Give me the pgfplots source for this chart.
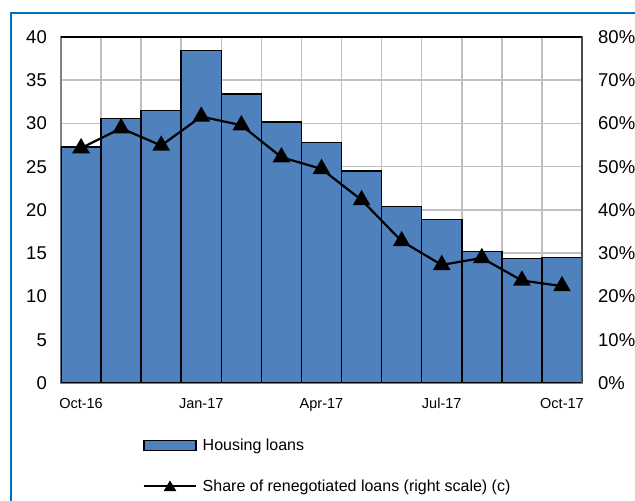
\documentclass[border=0pt]{standalone}
\usepackage{fontspec}
\setmainfont{Liberation Sans}
\usepackage{pgfplots}
\pgfplotsset{compat=1.18}
\definecolor{barblue}{HTML}{4F81BD}
\definecolor{frameblue}{HTML}{0070C0}
\definecolor{gridgray}{HTML}{BFBFBF}
\begin{document}
\begin{tikzpicture}
\begin{axis}[
 at={(61bp,118bp)}, anchor=south west,
 width=521bp, height=346bp, scale only axis,
 xmin=-0.5, xmax=12.5, ymin=0, ymax=40,
 ytick={0,5,...,40},
 xtick={0,3,6,9,12},
 xticklabels={Oct-16,Jan-17,Apr-17,Jul-17,Oct-17},
 minor xtick={-0.5,0.5,...,12.5},
 xminorgrids, ymajorgrids,
 grid style={draw=gridgray, line width=1.5bp},
 minor grid style={draw=gridgray, line width=1.5bp},
 major tick length=0pt, minor tick length=0pt,
 axis line style={draw=gray, line width=1.5bp},
 /pgf/number format/assume math mode=true,
 yticklabel style={font=\fontsize{18.5bp}{20bp}\selectfont, inner sep=0pt, xshift=-14bp},
 xticklabel style={font=\fontsize{14.5bp}{16bp}\selectfont, inner sep=0pt, yshift=-15bp},
 legend style={at={(0.157,-0.155)}, anchor=north west, draw=none, fill=none,
   font=\fontsize{16bp}{18bp}\selectfont, row sep=24bp, inner sep=0pt},
 legend cell align=left,
]
\addplot[ybar, bar width=1, fill=barblue, draw=black, line width=1.5bp,
  legend image code/.code={\draw[fill=barblue, draw=black, line width=1.5bp] (0bp,-5bp) rectangle (52bp,5bp); \path (56bp,0bp);}]
 coordinates {(0,27.3) (1,30.6) (2,31.5) (3,38.45) (4,33.4) (5,30.2) (6,27.8) (7,24.5) (8,20.4) (9,18.9) (10,15.2) (11,14.4) (12,14.5)};
\addlegendentry{Housing loans}
\addlegendimage{legend image code/.code={\draw[black, line width=2bp] (0bp,0bp) -- (52bp,0bp); \fill[black] (26bp,5.5bp) -- (20bp,-4.5bp) -- (32bp,-4.5bp) -- cycle; \path (56bp,0bp);}}
\addlegendentry{Share of renegotiated loans (right scale) (c)}
\draw[black, line width=2bp] (rel axis cs:0,1) -- (rel axis cs:1,1);
\end{axis}
\begin{axis}[
 at={(61bp,118bp)}, anchor=south west,
 width=521bp, height=346bp, scale only axis,
 xmin=-0.5, xmax=12.5, ymin=0, ymax=80,
 axis y line*=right, axis x line=none,
 ytick={0,10,...,80},
 yticklabels={0\%,10\%,20\%,30\%,40\%,50\%,60\%,70\%,80\%},
 major tick length=0pt,
 axis line style={draw=black!70, line width=1.5bp},
 yticklabel style={font=\fontsize{18.5bp}{20bp}\selectfont, inner sep=0pt, xshift=16bp},
]
\addplot[black, line width=2.2bp, mark=triangle*, mark size=8bp, mark options={solid}]
 coordinates {(0,54.3) (1,58.9) (2,54.9) (3,61.6) (4,59.6) (5,52.2) (6,49.5) (7,42.3) (8,32.8) (9,27.3) (10,28.9) (11,23.7) (12,22.4)};
\end{axis}
\draw[frameblue, line width=1.3bp] (11bp,-20bp) -- (11bp,488bp) -- (660bp,488bp);
\pgfresetboundingbox
\path[use as bounding box] (0,0) rectangle (635bp,501bp);
\end{tikzpicture}
\end{document}
